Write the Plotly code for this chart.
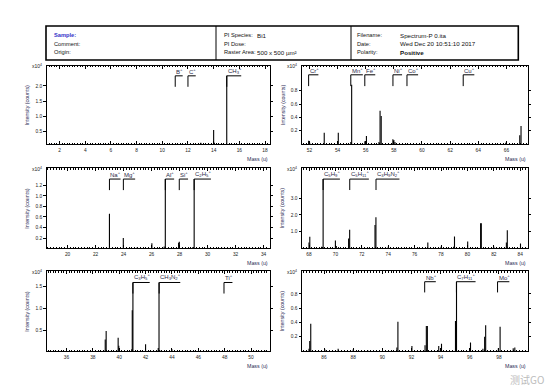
import plotly.graph_objects as go

# ---------------- data (intensities in x10^4 counts) ----------------
tl_mass = [13.0, 13.06, 14.0, 14.06, 15.02]
tl_int = [0.13, 0.10, 0.55, 0.13, 2.33]
tl_ions = ["B+", "C+", "CH3+"]
tl_ion_mass = [11.009, 12.000, 15.023]

tr_mass = [51.94, 52.02, 53.05, 54.05, 54.94, 55.0, 55.94, 56.05, 56.94, 57.02, 57.1,
           57.93, 58.0, 58.08, 65.95, 66.95, 67.04]
tr_int = [0.05, 0.02, 0.17, 0.17, 0.03, 0.89, 0.04, 0.12, 0.03, 0.50, 0.42,
          0.07, 0.06, 0.03, 0.02, 0.13, 0.27]
tr_ions = ["Cr+", "Mn+", "Fe+", "Ni+", "Co+", "Cu+"]
tr_ion_mass = [51.940, 54.938, 55.935, 57.935, 58.933, 62.930]

ml_mass = [22.99, 23.98, 24.98, 26.02, 26.9, 26.98, 27.93, 27.98, 28.95, 29.04, 30.0, 31.0]
ml_int = [0.66, 0.20, 0.03, 0.10, 0.04, 1.32, 0.11, 0.13, 0.03, 1.32, 0.02, 0.02]
ml_ions = ["Na+", "Mg+", "Al+", "Si+", "C2H5+"]
ml_ion_mass = [22.990, 23.985, 26.982, 27.977, 29.039]

mr_mass = [68.0, 68.06, 68.95, 69.07, 70.0, 70.07, 71.0, 71.08, 72.0, 73.0, 73.07, 74.0,
           75.0, 77.0, 78.0, 78.95, 79.02, 80.02, 81.0, 81.05, 82.0, 82.95, 83.02, 84.02]
mr_int = [0.36, 0.70, 0.10, 4.13, 0.47, 0.15, 0.60, 1.12, 0.05, 1.40, 1.86, 0.10,
          0.04, 0.36, 0.10, 0.10, 0.72, 0.42, 1.50, 1.50, 0.10, 0.35, 1.08, 0.30]
mr_ions = ["C5H9+", "C5H11+", "C3H9N2+"]
mr_ion_mass = [69.070, 71.086, 73.076]

bl_mass = [38.94, 39.01, 39.92, 39.97, 40.95, 40.99, 41.04, 42.0, 42.96, 43.02, 43.07, 44.0, 51.04]
bl_int = [0.29, 0.48, 0.33, 0.15, 0.07, 0.95, 1.58, 0.18, 0.10, 1.58, 0.05, 0.07, 0.04]
bl_ions = ["C3H5+", "CH3N2+", "Ti+"]
bl_ion_mass = [41.039, 43.030, 47.948]

br_mass = [84.97, 85.02, 85.09, 86.06, 86.97, 88.0, 89.0, 91.0, 91.07, 92.03, 92.93, 93.02,
           93.09, 93.87, 94.06, 95.02, 95.09, 96.05, 96.9, 97.02, 97.09, 97.96, 98.08, 98.98, 99.09]
br_int = [0.03, 0.14, 0.38, 0.02, 0.03, 0.02, 0.01, 0.05, 0.41, 0.07, 0.08, 0.35,
          0.35, 0.07, 0.10, 0.42, 0.97, 0.12, 0.03, 0.20, 0.36, 0.04, 0.34, 0.04, 0.05]
br_ions = ["Nb+", "C7H11+", "Mo+"]
br_ion_mass = [92.906, 95.086, 97.905]

header_left = [("Sample:", ""), ("Comment:", ""), ("Origin:", "")]
header_mid = [("PI Species:", "Bi1"), ("PI Dose:", ""), ("Raster Area:", "500 x 500 µm²")]
header_right = [("Filename:", "Spectrum-P 0.ita"), ("Date:", "Wed Dec 20 10:51:10 2017"),
                ("Polarity:", "Positive")]

# ---------------- layout helpers ----------------
W, H = 550, 389
FONT = "Liberation Sans, Arial, sans-serif"


def fx(x):
    return x / W


def fy(y):
    return 1 - y / H


panels = [
    dict(mass=tl_mass, inten=tl_int, ions=tl_ions, ion_mass=tl_ion_mass,
         xr=[1.0, 18.35], yr=[0.09, 2.67], yt=[0.5, 1.0, 1.5, 2.0],
         lo=1.97, hi=2.33, box=(46.7, 269.5, 65.5, 144.0), col=0),
    dict(mass=tr_mass, inten=tr_int, ions=tr_ions, ion_mass=tr_ion_mass,
         xr=[51.47, 67.5], yr=[0.0, 1.18], yt=[0.2, 0.4, 0.6, 0.8],
         lo=0.87, hi=1.04, box=(302.0, 527.5, 65.5, 144.0), col=1),
    dict(mass=ml_mass, inten=ml_int, ions=ml_ions, ion_mass=ml_ion_mass,
         xr=[18.51, 34.42], yr=[0.01, 1.53], yt=[0.2, 0.4, 0.6, 0.8, 1.0, 1.2],
         lo=1.11, hi=1.32, box=(46.7, 269.5, 168.0, 248.0), col=0),
    dict(mass=mr_mass, inten=mr_int, ions=mr_ions, ion_mass=mr_ion_mass,
         xr=[67.47, 84.55], yr=[0.03, 4.79], yt=[1.0, 2.0, 3.0],
         lo=3.48, hi=4.13, box=(302.0, 527.5, 168.0, 248.0), col=1),
    dict(mass=bl_mass, inten=bl_int, ions=bl_ions, ion_mass=bl_ion_mass,
         xr=[34.5, 51.4], yr=[0.03, 1.84], yt=[0.5, 1.0, 1.5],
         lo=1.33, hi=1.58, box=(46.7, 269.5, 271.0, 351.0), col=0),
    dict(mass=br_mass, inten=br_int, ions=br_ions, ion_mass=br_ion_mass,
         xr=[84.49, 99.96], yr=[0.0, 1.12], yt=[0.2, 0.4, 0.6, 0.8],
         lo=0.82, hi=0.97, box=(302.0, 527.5, 271.0, 351.0), col=1),
]

EM = {"A": .667, "B": .667, "C": .722, "H": .722, "N": .722, "M": .833, "F": .611,
      "T": .611, "O": .778, "S": .667, "a": .556, "b": .556, "e": .556, "g": .556,
      "i": .222, "l": .222, "o": .556, "r": .333, "u": .556}
ION_SIZE = 6


def ion_html(s):
    out, w = "", 0.0
    i = 0
    while i < len(s):
        c = s[i]
        if c.isdigit():
            j = i
            while j < len(s) and s[j].isdigit():
                j += 1
            out += "<sub>" + s[i:j] + "</sub>"
            w += 0.556 * 0.7 * (j - i)
            i = j
            continue
        if c == "+":
            out += "<sup>+</sup>"
            w += 0.584 * 0.7
        else:
            out += c
            w += EM.get(c, 0.6)
        i += 1
    return out, w * ION_SIZE + 1


def note(x, y, text, size, color="#111", xanchor="left", **kw):
    return dict(x=fx(x), y=fy(y), xref="paper", yref="paper", text=text, showarrow=False,
                xanchor=xanchor, yanchor="middle", font=dict(family=FONT, size=size, color=color),
                **kw)


fig = go.Figure()
shapes = []
annotations = []
layout = {}

for k, p in enumerate(panels):
    n = "" if k == 0 else str(k + 1)
    xa, ya = "x" + n, "y" + n
    x0, x1, y0, y1 = p["box"]
    # peaks as vertical sticks
    xs, ys = [], []
    for m, v in zip(p["mass"], p["inten"]):
        xs += [m, m, None]
        ys += [0, v, None]
    fig.add_trace(go.Scatter(x=xs, y=ys, mode="lines", xaxis=xa, yaxis=ya,
                             line=dict(color="black", width=1.1), hoverinfo="skip",
                             showlegend=False))
    layout["xaxis" + n] = dict(
        domain=[fx(x0), fx(x1)], anchor=ya, range=p["xr"], showgrid=False, zeroline=False,
        showline=True, linecolor="black", linewidth=1, mirror="ticks",
        ticks="inside", ticklen=3, tickwidth=0.8, tickcolor="black",
        tick0=0, dtick=2, ticklabelstandoff=1,
        minor=dict(dtick=0.2, tick0=0, ticks="inside", ticklen=1.5, tickwidth=0.6,
                   tickcolor="black"),
        tickfont=dict(family=FONT, size=4.8, color="#222"))
    layout["yaxis" + n] = dict(
        domain=[fy(y1), fy(y0)], anchor=xa, range=p["yr"], showgrid=False, zeroline=False,
        showline=True, linecolor="black", linewidth=1, mirror="ticks",
        ticks="outside", ticklen=2.5, tickwidth=0.8, tickcolor="black",
        tickvals=p["yt"], tickformat=".1f",
        tickfont=dict(family=FONT, size=4.8, color="#222"))

    # ion markers
    for ion, m in zip(p["ions"], p["ion_mass"]):
        html, wpx = ion_html(ion)
        shapes.append(dict(type="line", xref=xa, yref=ya, x0=m, x1=m, y0=p["lo"], y1=p["hi"],
                           line=dict(color="black", width=1)))
        shapes.append(dict(type="line", xref=xa, yref=ya, xsizemode="pixel", xanchor=m,
                           x0=0, x1=wpx, y0=p["hi"], y1=p["hi"],
                           line=dict(color="black", width=1)))
        annotations.append(dict(x=m, y=p["hi"], xref=xa, yref=ya, text=html, showarrow=False,
                                xanchor="left", yanchor="bottom", xshift=-1, yshift=-1,
                                font=dict(family=FONT, size=ION_SIZE, color="#2a2a48")))

    # titles
    ytx = 26.7 if p["col"] == 0 else 282.3
    annotations.append(note(ytx, (y0 + y1) / 2, "Intensity (counts)", 5.3, "#2b2b55",
                            xanchor="center", textangle=-90))
    annotations.append(note(x1, y1 + 15, "Mass (u)", 5.3, "#2b2b55", xanchor="right"))
    annotations.append(note(x0 - 3, y0 + 1, "x10<sup>4</sup>", 5, "#222", xanchor="right"))

# header box
shapes.append(dict(type="rect", xref="paper", yref="paper", x0=fx(46), x1=fx(518.3),
                   y0=fy(60), y1=fy(26), line=dict(color="black", width=1.6)))
for xd in (216, 351):
    shapes.append(dict(type="line", xref="paper", yref="paper", x0=fx(xd), x1=fx(xd),
                       y0=fy(60), y1=fy(26), line=dict(color="black", width=1)))

rows_y = [35, 43.7, 52.4]
HF = 5.7
for (lab, val), yy in zip(header_left, rows_y):
    col = "#3434c8" if lab == "Sample:" else "#111"
    txt = "<b>" + lab + "</b>" if lab == "Sample:" else lab
    annotations.append(note(51.5, yy, txt, HF, col))
for cols, lx, vx in ((header_mid, 221.5, 255), (header_right, 355, 397.5)):
    for (lab, val), yy in zip(cols, rows_y):
        annotations.append(note(lx, yy, lab, HF))
        if val:
            t = "<b>" + val + "</b>" if val == "Positive" else val
            annotations.append(note(vx, yy, t, 6.2))

# watermark
annotations.append(dict(x=fx(546), y=fy(379), xref="paper", yref="paper", text="测试GO",
                        showarrow=False, xanchor="right", yanchor="middle",
                        font=dict(family="Noto Sans CJK SC", size=10, color="#bcbcbc")))

fig.update_layout(width=W, height=H, margin=dict(l=0, r=0, t=0, b=0),
                  paper_bgcolor="white", plot_bgcolor="white",
                  shapes=shapes, annotations=annotations, showlegend=False, **layout)

fig.write_html("out.html", config={"displayModeBar": False},
               post_script="document.body.style.margin='0px';")
